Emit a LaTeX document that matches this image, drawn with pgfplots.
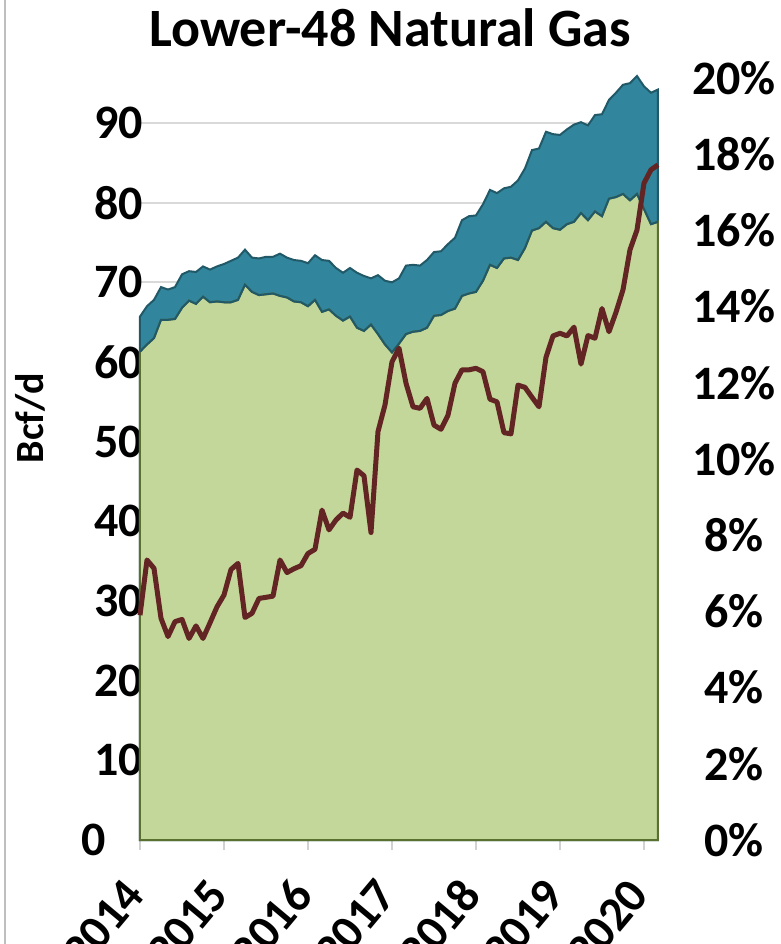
\documentclass[border=0pt]{standalone}
\usepackage{pgfplots}
\pgfplotsset{compat=1.18}
\usepackage{pgfplotstable}
\usepackage{fontspec}
\setmainfont{Carlito}
\definecolor{tealfill}{HTML}{31859C}
\definecolor{tealedge}{HTML}{215968}
\definecolor{greenfill}{HTML}{C4D79B}
\definecolor{oliveedge}{HTML}{5A7030}
\definecolor{redline}{HTML}{632523}

\pgfplotstableread{
m tot low
0 65.7 61.3
1 67.0 62.2
2 67.8 63.0
3 69.4 65.3
4 69.1 65.3
5 69.4 65.4
6 71.0 66.8
7 71.4 67.7
8 71.3 67.3
9 72.0 68.2
10 71.6 67.5
11 72.0 67.6
12 72.3 67.5
13 72.7 67.5
14 73.1 67.8
15 74.1 69.7
16 73.1 68.8
17 73.0 68.4
18 73.2 68.5
19 73.2 68.6
20 73.6 68.3
21 73.1 68.1
22 72.8 67.6
23 72.7 67.5
24 72.4 67.0
25 73.4 67.8
26 72.8 66.3
27 72.7 66.6
28 71.8 65.8
29 71.2 65.2
30 71.8 65.7
31 71.2 64.3
32 70.8 63.9
33 70.5 64.7
34 70.9 63.5
35 70.2 62.2
36 70.0 61.2
37 70.5 62.3
38 72.1 63.5
39 72.2 63.8
40 72.1 63.9
41 72.8 64.3
42 73.8 65.8
43 73.9 65.9
44 74.8 66.4
45 75.6 66.7
46 77.8 68.3
47 78.3 68.6
48 78.4 68.8
49 79.8 70.2
50 81.6 72.2
51 81.2 71.8
52 81.8 73.0
53 82.0 73.1
54 82.8 72.8
55 84.3 74.3
56 86.6 76.5
57 86.8 76.8
58 88.9 77.6
59 88.6 76.8
60 88.5 76.6
61 89.2 77.3
62 89.8 77.6
63 90.1 78.7
64 89.7 77.8
65 91.0 78.9
66 91.1 78.3
67 92.9 80.5
68 93.8 80.7
69 94.8 81.1
70 95.0 80.3
71 95.9 81.1
72 94.6 79.2
73 93.8 77.3
74 94.2 77.6
}\gas

\pgfplotstableread{
m pct
0 5.90
1 7.35
2 7.13
3 5.82
4 5.34
5 5.73
6 5.79
7 5.29
8 5.62
9 5.29
10 5.70
11 6.12
12 6.43
13 7.10
14 7.26
15 5.84
16 5.95
17 6.34
18 6.37
19 6.40
20 7.35
21 7.02
22 7.12
23 7.20
24 7.52
25 7.63
26 8.66
27 8.14
28 8.40
29 8.58
30 8.47
31 9.71
32 9.56
33 8.07
34 10.72
35 11.42
36 12.55
37 12.91
38 11.99
39 11.37
40 11.33
41 11.59
42 10.89
43 10.78
44 11.15
45 11.99
46 12.34
47 12.34
48 12.38
49 12.29
50 11.57
51 11.50
52 10.69
53 10.66
54 11.94
55 11.88
56 11.62
57 11.37
58 12.67
59 13.23
60 13.30
61 13.23
62 13.46
63 12.49
64 13.24
65 13.17
66 13.95
67 13.34
68 13.85
69 14.44
70 15.49
71 16.01
72 17.24
73 17.59
74 17.72
}\share

\begin{document}
\begin{tikzpicture}[font=\bfseries]
\begin{axis}[
  at={(0,0)}, anchor=south west, scale only axis,
  width=259pt, height=381pt,
  xmin=0, xmax=74, ymin=0, ymax=95.65,
  xtick={0,12,...,72},
  xticklabels={2014,2015,2016,2017,2018,2019,2020},
  xtick pos=lower,
  ytick={0,10,...,90},
  yticklabels={0\hspace*{18.5pt},10,20,30,40,50,60,70,80,90},
  axis line style={draw=none},
  ymajorgrids, grid style={draw=gray!30, line width=1pt},
  xtick style={draw=gray!35, line width=1pt},
  ytick style={draw=none},
  tick align=outside, major tick length=5pt,
  /pgf/number format/assume math mode=true,
  ticklabel style={font=\bfseries\fontsize{24}{24}\selectfont},
  xticklabel style={xshift=-0.4pt, yshift=-15.5pt, rotate=50, anchor=east},
  yticklabel style={xshift=10pt},
  clip=false,
]
\addplot[fill=tealfill, draw=tealedge, line width=1pt] table[x=m,y=tot]{\gas} \closedcycle;
\addplot[fill=greenfill, draw=oliveedge, line width=1pt] table[x=m,y=low]{\gas} \closedcycle;
\addplot[draw=tealedge, line width=1pt] table[x=m,y=low]{\gas};
\end{axis}
\begin{axis}[
  at={(0,0)}, anchor=south west, scale only axis,
  width=259pt, height=381pt,
  xmin=0, xmax=74, ymin=0, ymax=20,
  axis x line=none, axis y line*=right,
  axis line style={draw=none},
  ytick={0,2,...,20},
  yticklabel={\pgfmathprintnumber{\tick}\%},
  ytick style={draw=none},
  /pgf/number format/assume math mode=true,
  ticklabel style={font=\bfseries\fontsize{24}{24}\selectfont},
  yticklabel style={anchor=center, xshift=38pt},
  clip=false,
]
\addplot[redline, line width=2.5pt, line join=round] table[x=m,y=pct]{\share};
\end{axis}
\node[font=\bfseries\fontsize{27}{27}\selectfont] at (125pt,406pt) {Lower-48 Natural Gas};
\node[rotate=90, font=\bfseries\fontsize{20}{20}\selectfont] at (-55pt,211pt) {Bcf/d};
\draw[gray!50, line width=0.8pt] (-67.5pt,-52pt) -- (-67.5pt,420pt);
\pgfresetboundingbox
\path (-70pt,-52pt) rectangle (320.5pt,420pt);
\end{tikzpicture}
\end{document}
